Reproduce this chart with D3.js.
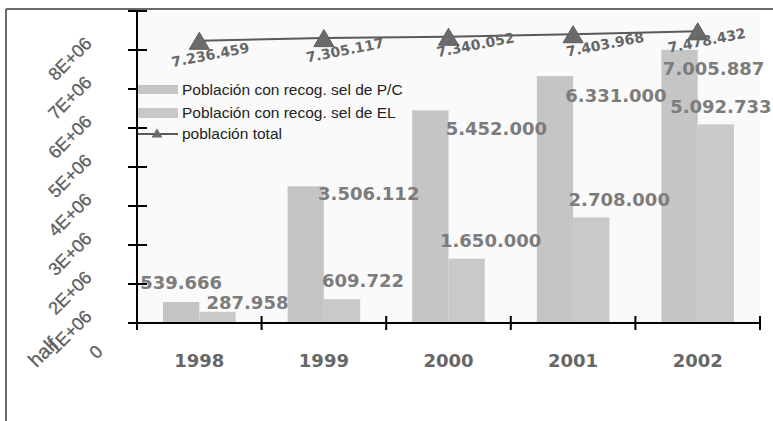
<!DOCTYPE html>
<html>
<head>
    <meta charset="utf-8">
    <title>Población con recogida selectiva</title>
    <style>
        body { margin: 0; background: #fff; }
        svg { display: block; }
        .tick-lbl { font-family: "Liberation Sans", Arial, sans-serif; font-size: 18px; fill: #5e5e5e; stroke: #5e5e5e; stroke-width: 0.3px; }
        .year-lbl { font-family: "DejaVu Sans", sans-serif; font-weight: bold; font-size: 18px; fill: #666; }
        .val-lbl { font-family: "DejaVu Sans", sans-serif; font-weight: bold; font-size: 18px; fill: #7c7c7c; }
        .tot-lbl { font-family: "DejaVu Sans", sans-serif; font-weight: bold; font-size: 14px; fill: #666; }
        .legend { font-family: "Liberation Sans", Arial, sans-serif; font-size: 15.5px; fill: #222; }
    </style>
</head>
<body>
<script src="https://d3js.org/d3.v7.min.js"></script>
<script>
    // data
    const years = ["1998", "1999", "2000", "2001", "2002"];
    const pobPC = [539666, 3506112, 5452000, 6331000, 7005887];
    const pobEL = [287958, 609722, 1650000, 2708000, 5092733];
    const pobTotal = [7236459, 7305117, 7340052, 7403968, 7478432];
    const seriesNames = ["Población con recog. sel de P/C", "Población con recog. sel de EL", "población total"];
    const yTicks = [0, 1e6, 2e6, 3e6, 4e6, 5e6, 6e6, 7e6, 8e6];
    const yTickLabels = ["0", "1E+06", "2E+06", "3E+06", "4E+06", "5E+06", "6E+06", "7E+06", "8E+06"];
    const strayLabel = "half";

    // label nudges (the original labels sit a bit all over the place)
    const pcLblOff = [[0, -13], [63, 14], [66, 25], [61, 26], [34, 25]];
    const elLblOff = [[30, -3], [21, -12], [24, -12], [28, -11], [5, -11]];
    const totLblOff = [[11, 14], [21, 12], [27, 8], [32, 10], [9, 9]];

    const width = 773, height = 421;
    const plot = { left: 137, right: 760, top: 11, bottom: 323 };

    const fmt = d3.formatLocale({ decimal: ",", thousands: ".", grouping: [3], currency: ["", ""] }).format(",d");

    const svg = d3.select("body").append("svg")
        .attr("width", width)
        .attr("height", height);

    // outer frame (only top and left show)
    svg.append("line").attr("x1", 6).attr("x2", width).attr("y1", 9).attr("y2", 9)
        .attr("stroke", "#6a6a6a").attr("stroke-width", 2);
    svg.append("line").attr("x1", 6).attr("x2", 6).attr("y1", 9).attr("y2", height)
        .attr("stroke", "#6a6a6a").attr("stroke-width", 2);

    // plot background
    svg.append("rect")
        .attr("x", plot.left).attr("y", plot.top)
        .attr("width", plot.right - plot.left).attr("height", plot.bottom - plot.top)
        .attr("fill", "#fafafa");

    const x = d3.scaleBand().domain(years).range([plot.left, plot.right]);
    const bw = x.bandwidth();
    const x1 = d3.scaleBand().domain(["pc", "el"]).range([bw / 2 - 36.3, bw / 2 + 36.3]);
    const y = d3.scaleLinear().domain([0, 8e6]).range([plot.bottom, plot.top]);

    // bars
    const rows = years.map((yr, i) => ({ yr, pc: pobPC[i], el: pobEL[i], tot: pobTotal[i], i }));
    const groups = svg.append("g").selectAll("g")
        .data(rows).join("g")
        .attr("transform", d => `translate(${x(d.yr)},0)`);

    groups.append("rect")
        .attr("x", x1("pc")).attr("width", x1.bandwidth())
        .attr("y", d => y(d.pc)).attr("height", d => y(0) - y(d.pc))
        .attr("fill", "#c5c5c5");
    groups.append("rect")
        .attr("x", x1("el")).attr("width", x1.bandwidth())
        .attr("y", d => y(d.el)).attr("height", d => y(0) - y(d.el))
        .attr("fill", "#c9c9c9");

    // axes
    svg.append("line").attr("x1", plot.left).attr("x2", plot.left)
        .attr("y1", plot.top).attr("y2", plot.bottom + 7)
        .attr("stroke", "#000").attr("stroke-width", 2);
    svg.append("line").attr("x1", plot.left).attr("x2", plot.right)
        .attr("y1", plot.bottom).attr("y2", plot.bottom)
        .attr("stroke", "#000").attr("stroke-width", 2);

    svg.append("g").selectAll("line")
        .data(yTicks).join("line")
        .attr("x1", plot.left - 9).attr("x2", plot.left + 10)
        .attr("y1", d => y(d)).attr("y2", d => y(d))
        .attr("stroke", "#000").attr("stroke-width", 2);

    const bounds = years.map(d => x(d)).concat([plot.right]);
    svg.append("g").selectAll("line")
        .data(bounds).join("line")
        .attr("x1", d => d).attr("x2", d => d)
        .attr("y1", plot.bottom - 7).attr("y2", plot.bottom + 7)
        .attr("stroke", "#000").attr("stroke-width", 2);

    // y tick labels, shifted down by about a tick like in the original
    svg.append("g").selectAll("text")
        .data(yTicks).join("text")
        .attr("class", "tick-lbl")
        .attr("text-anchor", "middle")
        .attr("dominant-baseline", "central")
        .attr("transform", (d, i) => {
            const cx = i === 0 ? 96 : 70;
            const cy = i === 0 ? y(d) + 29 : y(d) + 48;
            return `translate(${cx},${cy}) rotate(-45)`;
        })
        .text((d, i) => yTickLabels[i]);

    svg.append("text")
        .attr("class", "tick-lbl")
        .attr("text-anchor", "middle")
        .attr("dominant-baseline", "central")
        .style("font-size", "20px")
        .attr("transform", `translate(43,${y(0) + 29}) rotate(-45)`)
        .text(strayLabel);

    // year labels
    svg.append("g").selectAll("text")
        .data(years).join("text")
        .attr("class", "year-lbl")
        .attr("text-anchor", "middle")
        .attr("x", d => x(d) + bw / 2)
        .attr("y", 367)
        .text(d => d);

    // total population line
    const line = d3.line().x(d => x(d.yr) + bw / 2).y(d => y(d.tot));
    svg.append("path")
        .datum(rows)
        .attr("d", line)
        .attr("fill", "none")
        .attr("stroke", "#5a5a5a")
        .attr("stroke-width", 2);

    const tri = (w, h) => `M0,${-h / 2}L${w / 2},${h / 2}L${-w / 2},${h / 2}Z`;
    svg.append("g").selectAll("path")
        .data(rows).join("path")
        .attr("d", tri(20, 17))
        .attr("transform", d => `translate(${x(d.yr) + bw / 2},${y(d.tot)})`)
        .attr("fill", "#6b6b6b")
        .attr("stroke", "#5a5a5a")
        .attr("stroke-width", 1);

    // bar value labels, on top of every bar
    const vl = svg.append("g");
    vl.selectAll("text.pc")
        .data(rows).join("text")
        .attr("class", "val-lbl pc")
        .attr("text-anchor", "middle")
        .attr("x", d => x(d.yr) + x1("pc") + x1.bandwidth() / 2 + pcLblOff[d.i][0])
        .attr("y", d => y(d.pc) + pcLblOff[d.i][1])
        .text(d => fmt(d.pc));
    vl.selectAll("text.el")
        .data(rows).join("text")
        .attr("class", "val-lbl el")
        .attr("text-anchor", "middle")
        .attr("x", d => x(d.yr) + x1("el") + x1.bandwidth() / 2 + elLblOff[d.i][0])
        .attr("y", d => y(d.el) + elLblOff[d.i][1])
        .text(d => fmt(d.el));

    svg.append("g").selectAll("text")
        .data(rows).join("text")
        .attr("class", "tot-lbl")
        .attr("text-anchor", "middle")
        .attr("dominant-baseline", "central")
        .attr("transform", d => `translate(${x(d.yr) + bw / 2 + totLblOff[d.i][0]},${y(d.tot) + totLblOff[d.i][1]}) rotate(-11)`)
        .text(d => fmt(d.tot));

    // legend
    const lg = svg.append("g").attr("transform", "translate(138,0)");
    lg.append("rect").attr("x", 0).attr("y", 85).attr("width", 40).attr("height", 9).attr("fill", "#c5c5c5");
    lg.append("rect").attr("x", 0).attr("y", 108).attr("width", 40).attr("height", 10).attr("fill", "#c9c9c9");
    lg.append("line").attr("x1", 0).attr("x2", 40).attr("y1", 134).attr("y2", 134)
        .attr("stroke", "#5a5a5a").attr("stroke-width", 2);
    lg.append("path").attr("d", tri(11, 9)).attr("transform", "translate(19,133)").attr("fill", "#6b6b6b");
    lg.selectAll("text.legend")
        .data(seriesNames).join("text")
        .attr("class", "legend")
        .attr("x", 44)
        .attr("y", (d, i) => [95, 118, 139][i])
        .text(d => d);
</script>
</body>
</html>
